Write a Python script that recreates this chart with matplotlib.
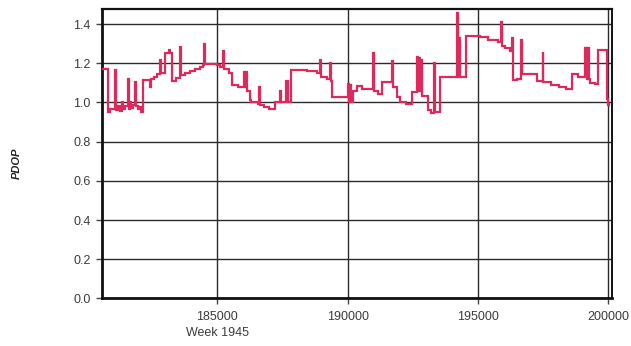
import matplotlib
matplotlib.use("Agg")
import matplotlib.pyplot as plt
from matplotlib.ticker import FixedLocator

# GPS seconds of week (week 1945) and PDOP (step series)
seconds = [
    180600, 180800, 180880, 181070, 181100, 181180, 181260, 181330, 181370, 181450,
    181560, 181600, 181650, 181700, 181760, 181830, 181870, 181950, 182020, 182080,
    182140, 182400, 182450, 182560, 182700,
    182790, 182830, 182990, 183150, 183190, 183270, 183420, 183560, 183600, 183750,
    183950, 184150, 184330, 184450, 184480, 184520, 184800, 185000, 185100, 185210,
    185250, 185450, 185560, 185800, 185950, 186030, 186060, 186100, 186150, 186256,
    186300, 186550, 186600, 186640, 186800, 187000, 187220, 187390, 187430, 187650,
    187720, 187830, 188450, 188830, 188944, 188990, 189200, 189330, 189370, 189405,
    190020, 190060, 190100, 190140, 190211, 190365, 190557, 190960, 191000, 191150,
    191325, 191700, 191740, 191900, 192016, 192250, 192477, 192650, 192690, 192740,
    192780, 192810, 192860, 193091, 193200, 193310, 193350, 193552, 194200, 194230,
    194290, 194320, 194551, 195100, 195400, 195780, 195880, 195920, 196050, 196250,
    196300, 196330, 196500, 196640, 196680, 197000, 197276, 197490, 197520, 197800,
    198100, 198400, 198600, 198850, 199120, 199150, 199170, 199200, 199230, 199260,
    199310, 199500, 199620, 199965, 200000, 200040,
]
pdop = [
    1.17, 0.95, 0.965, 1.165, 0.96, 0.98, 0.955, 1.00, 0.965, 0.98,
    1.12, 0.965, 1.00, 0.97, 0.985, 1.105, 0.98, 0.965, 0.975, 0.95,
    1.115, 1.08, 1.12, 1.13, 1.145,
    1.215, 1.15, 1.25, 1.265, 1.25, 1.11, 1.125, 1.285, 1.14, 1.15,
    1.16, 1.17, 1.18, 1.19, 1.30, 1.195, 1.195, 1.19, 1.18, 1.26,
    1.17, 1.15, 1.09, 1.08, 1.08, 1.155, 1.08, 1.155, 1.06, 1.01,
    1.00, 0.99, 1.08, 0.985, 0.975, 0.965, 1.00, 1.06, 1.00, 1.11,
    1.00, 1.165, 1.16, 1.15, 1.215, 1.13, 1.12, 1.20, 1.11, 1.03,
    1.095, 1.00, 1.09, 1.00, 1.06, 1.085, 1.07, 1.25, 1.06, 1.045,
    1.105, 1.21, 1.08, 1.03, 1.00, 0.99, 1.055, 1.23, 1.06, 1.225,
    1.06, 1.215, 1.035, 0.96, 0.945, 1.20, 0.95, 1.13, 1.455, 1.13,
    1.33, 1.13, 1.34, 1.335, 1.32, 1.31, 1.41, 1.29, 1.28, 1.26,
    1.33, 1.115, 1.12, 1.32, 1.145, 1.145, 1.11, 1.255, 1.105, 1.09,
    1.08, 1.07, 1.145, 1.13, 1.28, 1.13, 1.28, 1.12, 1.28, 1.12,
    1.10, 1.095, 1.265, 1.02, 0.985, 0.99,
]

x_ticks = [185000, 190000, 195000, 200000]
x_tick_labels = ["185000", "190000", "195000", "200000"]
y_ticks = [0.0, 0.2, 0.4, 0.6, 0.8, 1.0, 1.2, 1.4]
y_tick_labels = ["0.0", "0.2", "0.4", "0.6", "0.8", "1.0", "1.2", "1.4"]

plt.rcParams["font.family"] = ["Liberation Sans", "DejaVu Sans"]

fig = plt.figure(figsize=(6.31, 3.46), dpi=100)
ax = fig.add_axes([0.1612, 0.1373, 0.8087, 0.8358])

ax.plot(seconds, pdop, drawstyle="steps-post", color="#DC2A5C", lw=1.6,
        solid_joinstyle="miter", zorder=3)

ax.set_xlim(180560, 200150)
ax.set_ylim(0, 1.475)

ax.xaxis.set_major_locator(FixedLocator(x_ticks))
ax.set_xticklabels(x_tick_labels)
ax.yaxis.set_major_locator(FixedLocator(y_ticks))
ax.set_yticklabels(y_tick_labels)

ax.grid(True, color="#2b2b2b", lw=1.0, zorder=1)
ax.tick_params(axis="both", colors="#444444", labelsize=9, length=4, width=1.0,
               direction="out")
ax.tick_params(axis="x", pad=5)
ax.tick_params(axis="y", pad=4)
for lab in ax.get_xticklabels() + ax.get_yticklabels():
    lab.set_color("#3c3c3c")

ax.spines["left"].set_linewidth(2.0)
ax.spines["bottom"].set_linewidth(2.0)
ax.spines["top"].set_linewidth(1.6)
ax.spines["right"].set_linewidth(1.4)
for s in ax.spines.values():
    s.set_color("#111111")

ax.text(185000, -0.12, "Week 1945", transform=ax.get_xaxis_transform(),
        ha="center", va="center", fontsize=9, color="#3c3c3c")

fig.text(17 / 631, 1 - 163 / 346, "PDOP", rotation=90, ha="center", va="center",
         fontsize=8, fontweight="bold", fontstyle="italic", color="#222222")

fig.savefig("out.png", dpi=100, facecolor="white")
